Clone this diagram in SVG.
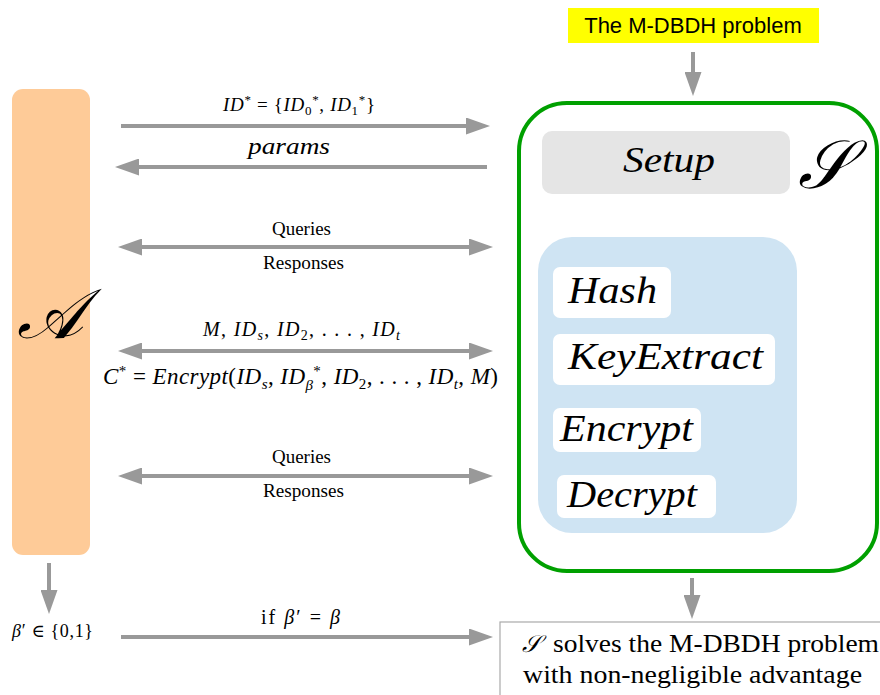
<svg xmlns="http://www.w3.org/2000/svg" width="880" height="695" viewBox="0 0 880 695">
<defs>
<style>
.conn line{stroke:#999;stroke-width:4;fill:none}
.one{marker-end:url(#ah)}
.two{marker-start:url(#ah);marker-end:url(#ah)}
.m{font-family:"Liberation Serif","DejaVu Serif",serif;fill:#000}
.i{font-style:italic}
.wb{fill:#fff}
</style>
<marker id="ah" viewBox="0 0 24 17" refX="4" refY="8.5" markerWidth="24" markerHeight="17" markerUnits="userSpaceOnUse" orient="auto-start-reverse">
<path d="M0,0 L24,8.5 L0,17 z" fill="#999"/>
</marker>
</defs>
<rect width="880" height="695" fill="#fff"/>

<g id="adversary">
<rect x="12" y="89" width="78" height="466" rx="11" fill="#fecb98"/>
<text class="m i" x="50" y="338" font-size="70" text-anchor="middle">𝒜</text>
</g>

<g id="problem">
<rect x="568" y="8" width="251" height="35" fill="#ffff00"/>
<text x="693" y="33" font-family="Liberation Sans,Arial,sans-serif" font-size="22" text-anchor="middle">The M-DBDH problem</text>
</g>

<g id="simulator">
<rect x="519" y="103" width="358" height="468" rx="48" fill="#fff" stroke="#00a000" stroke-width="4"/>
<text class="m i" x="824" y="188" font-size="68" text-anchor="middle">𝒮</text>
</g>

<g id="setup">
<rect x="542" y="131" width="248" height="63" rx="10" fill="#e5e5e5"/>
<text class="m i" x="623" y="172" font-size="36" textLength="92" lengthAdjust="spacingAndGlyphs">Setup</text>
</g>

<g id="oracles">
<rect x="538" y="237" width="259" height="296" rx="34" fill="#cfe4f3"/>
</g>
<g id="hash">
<rect class="wb" x="553" y="267" width="118" height="51" rx="7"/>
<text class="m i" x="568" y="303" font-size="37" textLength="89" lengthAdjust="spacingAndGlyphs">Hash</text>
</g>
<g id="keyextract">
<rect class="wb" x="553" y="334" width="222" height="51" rx="7"/>
<text class="m i" x="568" y="369" font-size="37" textLength="195" lengthAdjust="spacingAndGlyphs">KeyExtract</text>
</g>
<g id="encrypt">
<rect class="wb" x="553" y="408" width="148" height="44" rx="7"/>
<text class="m i" x="560" y="441" font-size="37" textLength="133" lengthAdjust="spacingAndGlyphs">Encrypt</text>
</g>
<g id="decrypt">
<rect class="wb" x="557" y="475" width="159" height="43" rx="7"/>
<text class="m i" x="567" y="507" font-size="37" textLength="130" lengthAdjust="spacingAndGlyphs">Decrypt</text>
</g>

<g id="result">
<rect x="500" y="622" width="400" height="90" fill="#fff" stroke="#aaa" stroke-width="1.2"/>
<text class="m i" x="522" y="652" font-size="24">𝒮</text>
<text class="m" x="553" y="652" font-size="25" textLength="326" lengthAdjust="spacingAndGlyphs">solves the M-DBDH problem</text>
<text class="m" x="523" y="683" font-size="25" textLength="339" lengthAdjust="spacingAndGlyphs">with non-negligible advantage</text>
</g>

<g id="guess">
<text class="m" x="12" y="637" font-size="18" textLength="81"><tspan class="i">β</tspan>′ ∈ {0,1}</text>
</g>

<g class="conn" id="connectors">
<line class="one" x1="121" y1="126" x2="470" y2="126"/>
<line class="one" x1="487" y1="167" x2="135" y2="167"/>
<line class="two" x1="138" y1="247" x2="473" y2="247"/>
<line class="two" x1="138" y1="351" x2="473" y2="351"/>
<line class="two" x1="138" y1="476" x2="473" y2="476"/>
<line class="one" x1="49" y1="563" x2="49" y2="594"/>
<line class="one" x1="121" y1="637" x2="473" y2="637"/>
<line class="one" x1="693" y1="52" x2="693" y2="76"/>
<line class="one" x1="692" y1="578" x2="692" y2="599"/>
</g>

<g id="labels" class="m">
<text x="223" y="111" font-size="19" textLength="152"><tspan class="i">ID</tspan><tspan dy="-7" font-size="13">*</tspan><tspan dy="7"> = {</tspan><tspan class="i">ID</tspan><tspan dy="4" font-size="13">0</tspan><tspan dy="-11" font-size="13">*</tspan><tspan dy="7">, </tspan><tspan class="i">ID</tspan><tspan dy="4" font-size="13">1</tspan><tspan dy="-11" font-size="13">*</tspan><tspan dy="7">}</tspan></text>
<text class="i" x="248" y="154" font-size="24" textLength="82" lengthAdjust="spacingAndGlyphs">params</text>
<text x="272" y="235" font-size="18" textLength="59" lengthAdjust="spacingAndGlyphs">Queries</text>
<text x="263" y="269" font-size="18" textLength="81" lengthAdjust="spacingAndGlyphs">Responses</text>
<text x="203" y="336" font-size="20" textLength="197"><tspan class="i">M</tspan>, <tspan class="i">ID</tspan><tspan class="i" dy="4" font-size="14">s</tspan><tspan dy="-4">, </tspan><tspan class="i">ID</tspan><tspan dy="4" font-size="14">2</tspan><tspan dy="-4">, . . . , </tspan><tspan class="i">ID</tspan><tspan class="i" dy="4" font-size="14">t</tspan></text>
<text x="103" y="384" font-size="23" textLength="395"><tspan class="i">C</tspan><tspan dy="-8" font-size="15">*</tspan><tspan dy="8"> = </tspan><tspan class="i">Encrypt</tspan>(<tspan class="i">ID</tspan><tspan class="i" dy="5" font-size="15">s</tspan><tspan dy="-5">, </tspan><tspan class="i">ID</tspan><tspan class="i" dy="6" font-size="15">β</tspan><tspan dy="-14" font-size="15">*</tspan><tspan dy="8">, </tspan><tspan class="i">ID</tspan><tspan dy="5" font-size="15">2</tspan><tspan dy="-5">, . . . , </tspan><tspan class="i">ID</tspan><tspan class="i" dy="5" font-size="15">t</tspan><tspan dy="-5">, </tspan><tspan class="i">M</tspan>)</text>
<text x="272" y="463" font-size="18" textLength="59" lengthAdjust="spacingAndGlyphs">Queries</text>
<text x="263" y="497" font-size="18" textLength="81" lengthAdjust="spacingAndGlyphs">Responses</text>
<text x="261" y="624" font-size="20" textLength="79">if <tspan class="i">β</tspan>′ = <tspan class="i">β</tspan></text>
</g>
</svg>
